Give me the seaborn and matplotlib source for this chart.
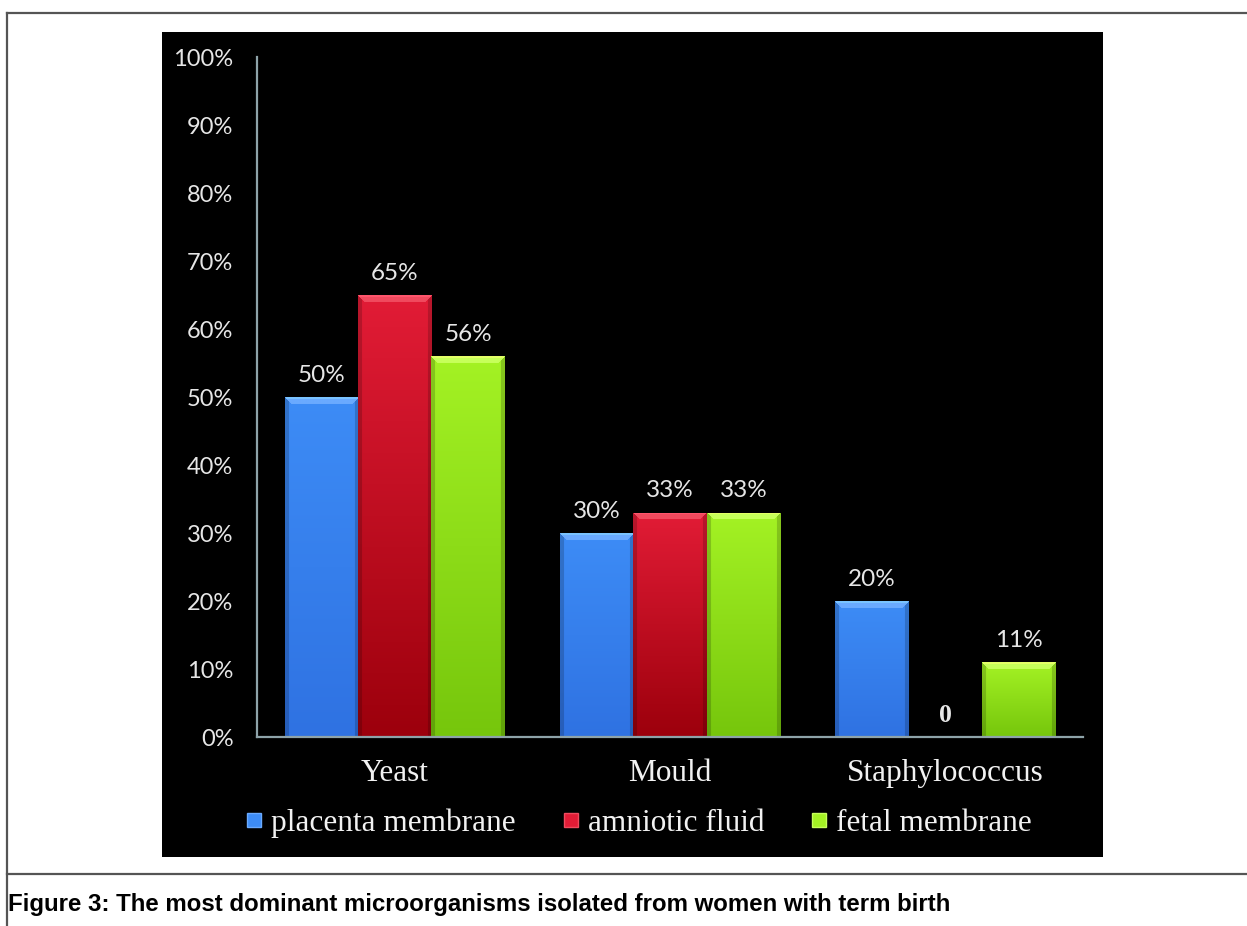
import numpy as np
import pandas as pd
import matplotlib
matplotlib.use("Agg")
import matplotlib.pyplot as plt
from matplotlib.lines import Line2D
from matplotlib.patches import Rectangle
from matplotlib.colors import to_rgb
import seaborn as sns

# ---- data -------------------------------------------------------------
organisms = ["Yeast", "Mould", "Staphylococcus"]
sources = ["placenta membrane", "amniotic fluid", "fetal membrane"]
placenta_membrane = [50, 30, 20]
amniotic_fluid = [65, 33, 0]
fetal_membrane = [56, 33, 11]
y_ticks = [0, 10, 20, 30, 40, 50, 60, 70, 80, 90, 100]
caption = "Figure 3: The most dominant microorganisms isolated from women with term birth"

series = [placenta_membrane, amniotic_fluid, fetal_membrane]
df = pd.DataFrame({
    "organism": np.repeat([organisms], len(sources), axis=0).ravel(),
    "source": np.repeat(sources, len(organisms)),
    "percent": np.concatenate(series),
})

# bar colours: (base, top of gradient, bottom of gradient, bevel rim)
shades = {
    "placenta membrane": ("#3580ee", "#3d8cf6", "#2f72e2", "#6aaaff"),
    "amniotic fluid": ("#c8101e", "#e21c36", "#9c000c", "#f04a5e"),
    "fetal membrane": ("#8ad81c", "#a4f224", "#76c60c", "#c6ff5a"),
}

W, H = 1247, 926
fig = plt.figure(figsize=(W / 100, H / 100), dpi=100, facecolor="white")


def fx(px):
    return px / W


def fy(py):
    return 1 - py / H


# black chart panel
fig.patches.append(Rectangle((fx(162), fy(857)), fx(1103) - fx(162), fy(32) - fy(857),
                             transform=fig.transFigure, facecolor="black",
                             edgecolor="none", zorder=-5))

# page frame lines
frame_kw = dict(transform=fig.transFigure, color="#555555", linewidth=1.6)
fig.add_artist(Line2D([fx(7), fx(7)], [fy(13), fy(926)], **frame_kw))
fig.add_artist(Line2D([fx(7), fx(1247)], [fy(13), fy(13)], **frame_kw))
fig.add_artist(Line2D([fx(7), fx(1247)], [fy(874), fy(874)], **frame_kw))

ax = fig.add_axes([fx(257), fy(737), fx(1083) - fx(257), fy(57) - fy(737)])
ax.set_zorder(2)
ax.set_facecolor("none")

sns.barplot(data=df, x="organism", y="percent", hue="source", order=organisms,
            hue_order=sources, palette={k: v[0] for k, v in shades.items()},
            width=0.8, saturation=1, dodge=True, legend=False, ax=ax,
            errorbar=None, edgecolor="none", linewidth=0)

ax.set_xlim(-0.5, len(organisms) - 0.5)
ax.set_ylim(0, 100)


def shade_bar(patch, top, bottom, rim):
    x0, y0 = patch.get_x(), patch.get_y()
    w, h = patch.get_width(), patch.get_height()
    if h <= 0:
        return
    (px0, py0), (px1, py1) = ax.transData.transform([(x0, y0), (x0 + w, y0 + h)])
    ncol = max(int(round(px1 - px0)), 2)
    nrow = max(int(round(py1 - py0)), 2)
    t = np.linspace(0, 1, nrow)[:, None, None]
    img = np.array(to_rgb(top)) * (1 - t) + np.array(to_rgb(bottom)) * t
    img = np.repeat(img, ncol, axis=1)
    r = np.arange(nrow)[:, None]
    c = np.arange(ncol)[None, :]
    band = min(7, nrow)
    top_mask = (r < band) & (c >= r) & (c < ncol - r)
    img[top_mask] = to_rgb(rim)
    img[(r < 2) & (c >= 1) & (c < ncol - 1)] = np.clip(np.array(to_rgb(rim)) * 1.15, 0, 1)
    side = 4
    side_mask = ((c < np.minimum(r, side)) | (c >= ncol - np.minimum(r, side))) & ~top_mask
    img[side_mask] *= 0.82
    im = ax.imshow(img, extent=(x0, x0 + w, y0, y0 + h), origin="upper",
                   aspect="auto", interpolation="bilinear",
                   zorder=patch.get_zorder() + 0.1)
    im.set_clip_path(patch)


label_font = dict(family=["Lato", "DejaVu Sans"], fontsize=17.5, color="#e6e6e6")
for src, container in zip(sources, ax.containers):
    _, top, bottom, rim = shades[src]
    for patch in container:
        shade_bar(patch, top, bottom, rim)
        value = patch.get_height()
        xc = patch.get_x() + patch.get_width() / 2
        if value > 0:
            ax.annotate(f"{value:g}%", (xc, value), xytext=(0, 11),
                        textcoords="offset points", ha="center", va="baseline",
                        **label_font)
        else:
            ax.annotate("0", (xc, value), xytext=(0, 11),
                        textcoords="offset points", ha="center", va="baseline",
                        family=["Liberation Serif"], fontsize=18.5,
                        fontweight="bold", color="#e6e6e6")

ax.set_xlim(-0.5, len(organisms) - 0.5)
ax.set_ylim(0, 100)

# axes styling
for side in ("top", "right"):
    ax.spines[side].set_visible(False)
for side in ("left", "bottom"):
    ax.spines[side].set_color("#8ea3a9")
    ax.spines[side].set_linewidth(1.6)
ax.set_yticks(y_ticks)
ax.set_yticklabels([f"{v}%" for v in y_ticks], family=["Lato", "DejaVu Sans"],
                   fontsize=17, color="#e6e6e6")
ax.set_xticks(range(len(organisms)))
ax.set_xticklabels(organisms, family=["Liberation Serif"], fontsize=22.5,
                   color="#f2f2f2")
ax.tick_params(axis="y", length=0, pad=17)
ax.tick_params(axis="x", length=0, pad=16)
ax.set_xlabel("")
ax.set_ylabel("")

# legend below the categories
handles = [Line2D([], [], linestyle="none", marker="s", markersize=10,
                  markerfacecolor=shades[s][1], markeredgecolor=shades[s][3],
                  markeredgewidth=1.0) for s in sources]
fig.legend(handles, sources, loc="center", bbox_to_anchor=(fx(639), fy(823)),
           ncol=3, frameon=False, handlelength=0.5, handletextpad=0.3,
           columnspacing=1.5, borderpad=0, borderaxespad=0,
           prop={"family": "Liberation Serif", "size": 22.5},
           labelcolor="#f2f2f2")

# figure caption, fitted to its line width
cap = fig.text(fx(8), fy(904), caption, fontsize=14, fontweight="bold",
               family=["Liberation Sans Narrow", "Liberation Sans"],
               color="black", ha="left", va="center")
fig.canvas.draw()
width = cap.get_window_extent().width
cap.set_fontsize(14 * 943 / width)

fig.savefig("out.png", dpi=100, facecolor="white")
